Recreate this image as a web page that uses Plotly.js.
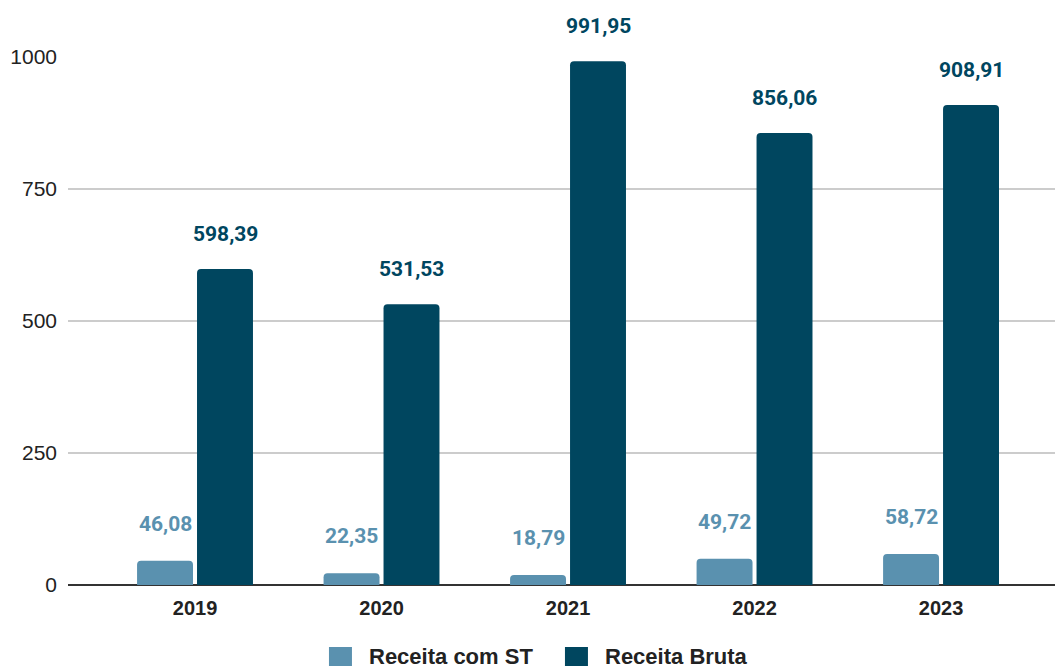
<!DOCTYPE html>
<html>
<head>
<meta charset="utf-8">
<script src="https://cdn.plot.ly/plotly-3.0.1.min.js"></script>
<style>
  html, body { margin: 0; padding: 0; background: #ffffff; }
  #chart { width: 1055px; height: 666px; }
</style>
</head>
<body>
<div id="chart"></div>
<script>
// Annual revenue, in thousands
const anos = ['2019', '2020', '2021', '2022', '2023'];
const receitaComST = [46.08, 22.35, 18.79, 49.72, 58.72];
const receitaBruta = [598.39, 531.53, 991.95, 856.06, 908.91];
const nomesSeries = ['Receita com ST', 'Receita Bruta'];
const tickValores = [0, 250, 500, 750, 1000];

const corClara = '#5a91af';
const corEscura = '#00465f';
const cores = [corClara, corEscura];

// Brazilian decimal format: comma separator, two decimals
const fmt = v => v.toFixed(2).replace('.', ',');

const traces = [
  {
    type: 'bar', name: nomesSeries[0], x: anos, y: receitaComST,
    marker: { color: corClara }, hoverinfo: 'x+y'
  },
  {
    type: 'bar', name: nomesSeries[1], x: anos, y: receitaBruta,
    marker: { color: corEscura }, hoverinfo: 'x+y'
  }
];

// Value labels above each bar (category index + pixel shift to the grouped bar)
const rotulo = (valores, cor, deslocX, deslocY) => valores.map((v, i) => ({
  x: i, y: v, xref: 'x', yref: 'y',
  text: '<b>' + fmt(v) + '</b>', showarrow: false,
  xshift: deslocX, yshift: deslocY,
  font: { family: 'Roboto, Arial, sans-serif', size: 21, color: cor }
}));

// Legend drawn below the plot with large square swatches
const legendaX = [0.2644, 0.5035];
const legendaY0 = -0.1174, legendaY1 = -0.161;
const legendaShapes = nomesSeries.map((n, k) => ({
  type: 'rect', xref: 'paper', yref: 'paper',
  x0: legendaX[k], x1: legendaX[k] + 0.0233, y0: legendaY1, y1: legendaY0,
  fillcolor: cores[k], line: { width: 0 }
}));
const legendaTextos = nomesSeries.map((n, k) => ({
  xref: 'paper', yref: 'paper', x: legendaX[k] + 0.0386, y: -0.1345,
  xanchor: 'left', yanchor: 'middle', showarrow: false,
  text: '<b>' + n + '</b>',
  font: { family: 'Arial, Liberation Sans, sans-serif', size: 22, color: '#222222' }
}));

const layout = {
  width: 1055, height: 666,
  margin: { l: 68, r: 0, t: 57, b: 81, autoexpand: false },
  paper_bgcolor: '#ffffff', plot_bgcolor: '#ffffff',
  barmode: 'group', bargap: 0.357, bargroupgap: 0.067,
  barcornerradius: 4,
  showlegend: false,
  xaxis: {
    type: 'category', range: [-0.681, 4.611],
    showgrid: false, zeroline: false, showline: false, ticks: '',
    tickfont: { family: 'Arial, Liberation Sans, sans-serif', size: 20, color: '#222222' },
    ticktext: anos.map(a => '<b>' + a + '</b>'), tickvals: anos,
    ticklabelstandoff: 9
  },
  yaxis: {
    range: [0, 1000], tickvals: tickValores, ticktext: tickValores.map(String),
    showgrid: true, gridcolor: '#cccccc', gridwidth: 1.3,
    zeroline: true, zerolinecolor: '#333333', zerolinewidth: 1.5,
    showline: false, ticks: '',
    tickfont: { family: 'Arial, Liberation Sans, sans-serif', size: 21, color: '#222222' },
    ticklabelstandoff: 10
  },
  shapes: legendaShapes,
  annotations: [
    ...rotulo(receitaComST, corClara, -30, 37),
    ...rotulo(receitaBruta, corEscura, 30, 35),
    ...legendaTextos
  ]
};

Plotly.newPlot('chart', traces, layout, { displayModeBar: false, staticPlot: true });
</script>
</body>
</html>
